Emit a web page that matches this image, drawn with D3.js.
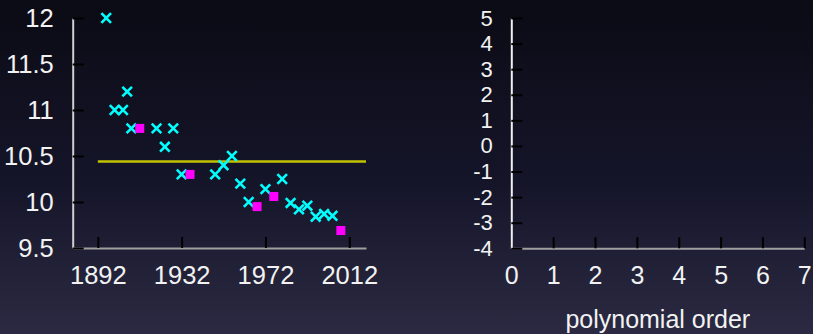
<!DOCTYPE html>
<html>
<head>
<meta charset="utf-8">
<script src="https://cdn.jsdelivr.net/npm/d3@7"></script>
<style>
	html, body { margin: 0; padding: 0; background: #0d0d18; }
	svg { display: block; }
	.tick text { font-family: "Liberation Sans", Arial, sans-serif; fill: #f2f2f2; }
	.tick line { stroke: #000; stroke-width: 2; }
</style>
</head>
<body>
<svg width="813" height="334"></svg>
<script>
// Olympic men's 100m winning times (s)
const trainYears = [1896, 1900, 1904, 1906, 1908, 1920, 1924, 1928, 1932, 1948, 1952, 1956,
	1960, 1964, 1972, 1980, 1984, 1988, 1992, 1996, 2000, 2004];
const trainTimes = [12.0, 11.0, 11.0, 11.2, 10.8, 10.8, 10.6, 10.8, 10.3, 10.3, 10.4, 10.5,
	10.2, 10.0, 10.14, 10.25, 9.99, 9.92, 9.96, 9.84, 9.87, 9.85];
const testYears = [1912, 1936, 1968, 1976, 2008];
const testTimes = [10.8, 10.3, 9.95, 10.06, 9.69];

// order 0 fit
const fitYears = [1892, 2020];
const fitTimes = [10.44, 10.44];

const leftXTicks = [1892, 1932, 1972, 2012];
const leftYTicks = [9.5, 10, 10.5, 11, 11.5, 12];
const rightXTicks = [0, 1, 2, 3, 4, 5, 6, 7];
const rightYTicks = [-4, -3, -2, -1, 0, 1, 2, 3, 4, 5];
const rightXLabel = "polynomial order";

const svg = d3.select("svg");

// background gradient
const grad = svg.append("defs").append("linearGradient")
	.attr("id", "bg")
	.attr("x1", 0).attr("y1", 0).attr("x2", 0).attr("y2", 1);
grad.append("stop").attr("offset", "0%").attr("stop-color", "#0b0b15");
grad.append("stop").attr("offset", "55%").attr("stop-color", "#15152a");
grad.append("stop").attr("offset", "100%").attr("stop-color", "#2b2a42");

svg.append("rect")
	.attr("width", 813)
	.attr("height", 334)
	.attr("fill", "url(#bg)");

// ---- left panel ----
const x1 = d3.scaleLinear().domain([1880, 2020]).range([72.7, 366]);
const y1 = d3.scaleLinear().domain([9.5, 12]).range([248, 18]);

const left = svg.append("g").attr("class", "left");

left.append("g")
	.attr("transform", "translate(0,248)")
	.call(d3.axisBottom(x1).tickValues(leftXTicks).tickFormat(String)
		.tickSizeInner(-11).tickSizeOuter(0).tickPadding(18))
	.call(g => g.select(".domain").attr("stroke", "#a0a0a0").attr("stroke-width", 2))
	.call(g => g.selectAll(".tick text").attr("font-size", 25.5));

left.append("g")
	.attr("transform", "translate(72.7,0)")
	.call(d3.axisLeft(y1).tickValues(leftYTicks).tickFormat(String)
		.tickSizeInner(-11).tickSizeOuter(0).tickPadding(19))
	.call(g => g.select(".domain").attr("stroke", "#d0d0d0").attr("stroke-width", 2))
	.call(g => g.selectAll(".tick text").attr("font-size", 25.5));

left.append("path")
	.datum(fitYears.map((d, i) => [d, fitTimes[i]]))
	.attr("fill", "none")
	.attr("stroke", "#c2c200")
	.attr("stroke-width", 2.5)
	.attr("d", d3.line().x(d => x1(d[0])).y(d => y1(d[1])));

const r = 4.8;
left.selectAll(".train")
	.data(trainYears.map((d, i) => [d, trainTimes[i]]))
	.enter().append("path")
	.attr("class", "train")
	.attr("transform", d => "translate(" + x1(d[0]) + "," + y1(d[1]) + ")")
	.attr("d", "M" + -r + "," + -r + "L" + r + "," + r + "M" + -r + "," + r + "L" + r + "," + -r)
	.attr("stroke", "#00ffff")
	.attr("stroke-width", 2.6)
	.attr("fill", "none");

const s = 9;
left.selectAll(".test")
	.data(testYears.map((d, i) => [d, testTimes[i]]))
	.enter().append("rect")
	.attr("class", "test")
	.attr("x", d => x1(d[0]) - s / 2)
	.attr("y", d => y1(d[1]) - s / 2)
	.attr("width", s)
	.attr("height", s)
	.attr("fill", "#ff00ff");

// ---- right panel ----
const x2 = d3.scaleLinear().domain([0, 7]).range([511.3, 804.3]);
const y2 = d3.scaleLinear().domain([-4, 5]).range([248.3, 18]);

const right = svg.append("g").attr("class", "right");

right.append("g")
	.attr("transform", "translate(0,248.3)")
	.call(d3.axisBottom(x2).tickValues(rightXTicks).tickFormat(String)
		.tickSizeInner(-11).tickSizeOuter(0).tickPadding(18))
	.call(g => g.select(".domain").attr("stroke", "#a0a0a0").attr("stroke-width", 2))
	.call(g => g.selectAll(".tick text").attr("font-size", 25));

right.append("g")
	.attr("transform", "translate(511.3,0)")
	.call(d3.axisLeft(y2).tickValues(rightYTicks).tickFormat(String)
		.tickSizeInner(-11).tickSizeOuter(0).tickPadding(18.5))
	.call(g => g.select(".domain").attr("stroke", "#f0f0f0").attr("stroke-width", 2))
	.call(g => g.selectAll(".tick text").attr("font-size", 22));

right.append("text")
	.attr("x", (511.3 + 804.3) / 2)
	.attr("y", 328)
	.attr("text-anchor", "middle")
	.attr("font-family", "Liberation Sans, Arial, sans-serif")
	.attr("font-size", 25)
	.attr("fill", "#f2f2f2")
	.text(rightXLabel);
</script>
</body>
</html>
